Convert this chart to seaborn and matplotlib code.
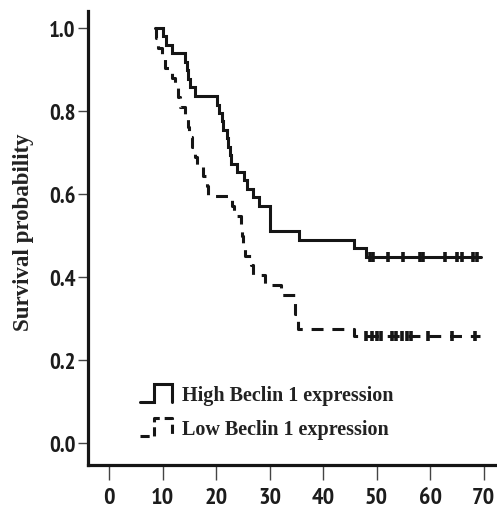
import matplotlib
matplotlib.use("Agg")
import matplotlib.pyplot as plt
from matplotlib.lines import Line2D
from matplotlib.legend_handler import HandlerBase
import seaborn as sns
import pandas as pd

# ---- data ----
high_t = [8.5, 10.1, 10.7, 11.7, 14.2, 14.5, 14.8, 15.1, 16.0, 20.1, 20.5, 21.0, 21.3,
          22.0, 22.2, 22.6, 22.8, 23.9, 25.2, 25.8, 26.9, 28.0, 30.1, 35.5, 45.7, 48.1, 69.6]
high_s = [1.0, 0.980, 0.959, 0.939, 0.918, 0.898, 0.878, 0.857, 0.837, 0.816, 0.796, 0.776, 0.755,
          0.735, 0.714, 0.694, 0.673, 0.653, 0.633, 0.612, 0.592, 0.571, 0.510, 0.490, 0.469, 0.449, 0.449]
high_cens_t = [48.7, 49.4, 52.2, 55.0, 58.1, 58.7, 62.8, 65.0, 65.9, 68.1, 68.7]
high_cens_s = [0.449] * len(high_cens_t)

low_t = [8.5, 8.7, 9.2, 9.8, 10.4, 11.8, 12.3, 12.8, 13.2, 14.1, 14.7, 15.0, 15.4, 16.0,
         16.5, 17.6, 18.2, 18.4, 22.9, 23.3, 24.6, 24.9, 25.1, 25.3, 26.5, 26.9, 29.1,
         32.2, 34.7, 35.3, 45.7, 69.4]
low_s = [1.0, 0.976, 0.952, 0.929, 0.905, 0.881, 0.857, 0.833, 0.810, 0.786, 0.762, 0.738, 0.714, 0.690,
         0.667, 0.643, 0.619, 0.595, 0.571, 0.548, 0.524, 0.500, 0.476, 0.452, 0.429, 0.405, 0.381,
         0.357, 0.310, 0.274, 0.257, 0.257]
low_cens_t = [48.1, 49.1, 50.0, 50.9, 52.8, 53.7, 54.7, 55.6, 56.5, 59.6, 64.0, 68.4]
low_cens_s = [0.257] * len(low_cens_t)

x_ticks = [0, 10, 20, 30, 40, 50, 60, 70]
y_ticks = [0.0, 0.2, 0.4, 0.6, 0.8, 1.0]
y_ticklabels = ["0.0", "0.2", "0.4", "0.6", "0.8", "1.0"]
labels = ["High Beclin 1 expression", "Low Beclin 1 expression"]
ylabel = "Survival probability"

# ---- style ----
sns.set_theme(style="white")
TICK_FONT = ["Liberation Sans Narrow", "Arial Narrow", "PT Sans Narrow", "Archivo Narrow",
             "Roboto Condensed", "Fira Sans Condensed", "DejaVu Sans"]
SERIF = ["Liberation Serif", "Tinos", "DejaVu Serif"]
plt.rcParams["font.family"] = TICK_FONT

INK = "#151515"
LW = 2.2
DASH = (0, (3.9, 2.9))

fig = plt.figure(figsize=(4.97, 5.10), dpi=100)
ax = fig.add_axes([0.1771, 0.0853, 0.8229, 0.8917])

high_df = pd.DataFrame({"t": high_t, "s": high_s})
low_df = pd.DataFrame({"t": low_t, "s": low_s})

sns.lineplot(data=high_df, x="t", y="s", ax=ax, estimator=None, sort=False,
             drawstyle="steps-post", color=INK, lw=LW, solid_joinstyle="miter")
sns.lineplot(data=low_df, x="t", y="s", ax=ax, estimator=None, sort=False,
             drawstyle="steps-post", color=INK, lw=LW, linestyle=DASH, dash_capstyle="butt")

sns.scatterplot(x=high_cens_t, y=high_cens_s, ax=ax, marker="|", s=45,
                color=INK, linewidth=2.6, zorder=3)
sns.scatterplot(x=low_cens_t, y=low_cens_s, ax=ax, marker="|", s=45,
                color=INK, linewidth=2.6, zorder=3)

ax.set_xlim(-3.96, 72.5)
ax.set_ylim(-0.054, 1.042)
ax.set_xticks(x_ticks)
ax.set_xticklabels([str(v) for v in x_ticks])
ax.set_yticks(y_ticks)
ax.set_yticklabels(y_ticklabels)

for side in ["top", "right"]:
    ax.spines[side].set_visible(False)
for side in ["left", "bottom"]:
    ax.spines[side].set_linewidth(2.3)
    ax.spines[side].set_color(INK)

ax.tick_params(axis="x", bottom=True, direction="out", length=11, width=1.0, color="#444444",
               pad=4.5, labelsize=17.5, labelcolor="#1c1c1c")
ax.tick_params(axis="y", left=True, direction="out", length=7.5, width=1.0, color="#444444",
               pad=1.5, labelsize=16.5, labelcolor="#1c1c1c")
for lab in ax.get_xticklabels() + ax.get_yticklabels():
    lab.set_fontweight("bold")

ax.set_xlabel("")
ax.set_ylabel(ylabel, family=SERIF, fontweight="bold", fontsize=16.5, color="#222222", labelpad=11)
ax.yaxis.label.set_y(0.516)


class StepHandler(HandlerBase):
    def create_artists(self, legend, orig_handle, xdescent, ydescent, width, height,
                       fontsize, trans):
        x0 = -xdescent
        y0 = -ydescent - 0.15 * height
        h = height * 1.3
        xs = [x0, x0 + 0.45 * width, x0 + 0.45 * width, x0 + width, x0 + width]
        ys = [y0, y0, y0 + h, y0 + h, y0]
        line = Line2D(xs, ys)
        line.update_from(orig_handle)
        line.set_transform(trans)
        return [line]


h_high = Line2D([], [], color=INK, lw=LW, solid_joinstyle="miter")
h_low = Line2D([], [], color=INK, lw=LW, linestyle=(0, (3.0, 1.6)))
ax.legend([h_high, h_low], labels, handler_map={Line2D: StepHandler()},
          loc="center left", bbox_to_anchor=(0.127, 0.118), frameon=False,
          borderpad=0, borderaxespad=0, handlelength=1.6, handletextpad=0.5, labelspacing=0.7,
          prop={"family": SERIF, "weight": "bold", "size": 14.5},
          labelcolor="#222222")

fig.savefig("out.png", dpi=100)
